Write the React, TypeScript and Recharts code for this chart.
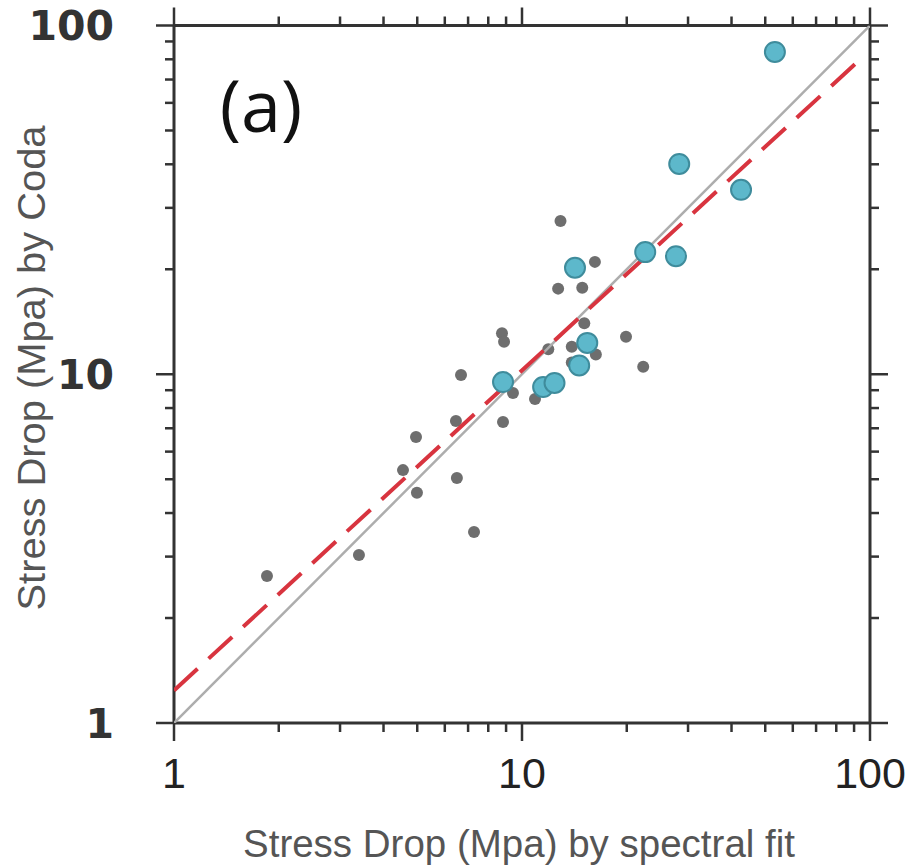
import { Scatter, ScatterChart, XAxis, YAxis } from 'recharts'

// log ticks: every integer per decade, labels only on decades
const ticks = [1, 2, 3, 4, 5, 6, 7, 8, 9, 10, 20, 30, 40, 50, 60, 70, 80, 90, 100]
const majorTicks = [1, 10, 100]

// small grey dots
const smallX = [1.85, 3.4, 4.96, 4.55, 4.99, 6.46, 6.68, 6.5, 7.28, 8.76, 8.88, 8.82, 9.42, 10.9, 11.9, 12.9, 12.7, 14.9, 16.2, 15.1, 13.9, 13.9, 16.3, 19.9, 22.3]
const smallY = [2.64, 3.03, 6.61, 5.31, 4.57, 7.34, 9.95, 5.04, 3.53, 13.1, 12.4, 7.3, 8.84, 8.49, 11.8, 27.5, 17.6, 17.7, 21.0, 14.0, 12.0, 10.8, 11.4, 12.8, 10.5]

// large cyan dots
const bigX = [8.82, 11.5, 12.4, 14.2, 14.6, 15.4, 22.6, 27.7, 28.3, 42.6, 53.3]
const bigY = [9.5, 9.19, 9.44, 20.2, 10.6, 12.3, 22.4, 21.8, 40.1, 33.8, 84.0]

// 1:1 reference line and fitted (dashed) line end points
const oneX = [1, 100]
const oneY = [1, 100]
const fitX = [1, 92]
const fitY = [1.24, 78.6]

const zip = (xs: number[], ys: number[]) => xs.map((x, i) => ({ x, y: ys[i] }))

const smallData = zip(smallX, smallY)
const bigData = zip(bigX, bigY)
const oneData = zip(oneX, oneY)
const fitData = zip(fitX, fitY)

const AXIS = '#333'

function makeTick(side: 'bottom' | 'top' | 'left' | 'right') {
  return (props: any) => {
    const { x, y, payload } = props
    const major = majorTicks.includes(payload.value)
    const len = major ? 18 : 9
    let line
    if (side === 'bottom') line = <line x1={x} y1={y} x2={x} y2={y + len} />
    else if (side === 'top') line = <line x1={x} y1={y} x2={x} y2={y - len} />
    else if (side === 'left') line = <line x1={x} y1={y} x2={x - len} y2={y} />
    else line = <line x1={x} y1={y} x2={x + len} y2={y} />

    let label = null
    if (major && side === 'bottom') {
      label = (
        <text x={x} y={y + 65} textAnchor="middle" fontFamily="'Liberation Sans', Arial, sans-serif" fontSize={43} fill="#222">
          {payload.value}
        </text>
      )
    }
    if (major && side === 'left') {
      label = (
        <text x={x - 60} y={y} dy="0.36em" textAnchor="end" fontFamily="'DejaVu Sans', sans-serif" fontWeight="bold" fontSize={41} fill="#333">
          {payload.value}
        </text>
      )
    }
    return (
      <g>
        <g stroke={AXIS} strokeWidth={2.5}>{line}</g>
        {label}
      </g>
    )
  }
}

const smallDot = (p: any) => <circle cx={p.cx} cy={p.cy} r={6} fill="#6e6e6e" />
const bigDot = (p: any) => <circle cx={p.cx} cy={p.cy} r={10} fill="#5db8cb" stroke="#3f8c9c" strokeWidth={2} />
const noDot = () => <g />

export default function App() {
  const axisLine = { stroke: AXIS, strokeWidth: 3 }
  return (
    <div style={{ position: 'fixed', left: 0, top: 0, width: 909, height: 868, background: '#fff' }}>
      <ScatterChart width={909} height={868} margin={{ top: 0, right: 0, bottom: 45, left: 74 }}>
        <XAxis
          xAxisId="bottom"
          type="number"
          dataKey="x"
          scale="log"
          domain={[1, 100]}
          allowDataOverflow
          ticks={ticks}
          interval={0}
          height={100}
          tickSize={0}
          tickMargin={0}
          tickLine={false}
          axisLine={axisLine}
          tick={makeTick('bottom')}
        />
        <XAxis
          xAxisId="top"
          orientation="top"
          type="number"
          dataKey="x"
          scale="log"
          domain={[1, 100]}
          allowDataOverflow
          ticks={ticks}
          interval={0}
          height={25.5}
          tickSize={0}
          tickMargin={0}
          tickLine={false}
          axisLine={axisLine}
          tick={makeTick('top')}
        />
        <YAxis
          yAxisId="left"
          type="number"
          dataKey="y"
          scale="log"
          domain={[1, 100]}
          allowDataOverflow
          ticks={ticks}
          interval={0}
          width={100}
          tickSize={0}
          tickMargin={0}
          tickLine={false}
          axisLine={axisLine}
          tick={makeTick('left')}
        />
        <YAxis
          yAxisId="right"
          orientation="right"
          type="number"
          dataKey="y"
          scale="log"
          domain={[1, 100]}
          allowDataOverflow
          ticks={ticks}
          interval={0}
          width={39}
          tickSize={0}
          tickMargin={0}
          tickLine={false}
          axisLine={axisLine}
          tick={makeTick('right')}
        />

        <Scatter xAxisId="bottom" yAxisId="left" data={smallData} shape={smallDot} isAnimationActive={false} />
        <Scatter
          xAxisId="top"
          yAxisId="right"
          data={oneData}
          shape={noDot}
          line={{ stroke: '#adadad', strokeWidth: 2.5 }}
          isAnimationActive={false}
        />
        <Scatter
          xAxisId="bottom"
          yAxisId="left"
          data={fitData}
          shape={noDot}
          line={{ stroke: '#d8343f', strokeWidth: 4, strokeDasharray: '32 15' }}
          isAnimationActive={false}
        />
        <Scatter xAxisId="bottom" yAxisId="left" data={bigData} shape={bigDot} isAnimationActive={false} />

        <text x={261} y={132} textAnchor="middle" fontFamily="'Open Sans', sans-serif" fontSize={72} fill="#111">
          (a)
        </text>
        <text
          x={519}
          y={857}
          textAnchor="middle"
          fontFamily="'Liberation Sans', Arial, sans-serif"
          fontSize={38}
          fill="#555"
          textLength={552}
          lengthAdjust="spacingAndGlyphs"
        >
          Stress Drop (Mpa) by spectral fit
        </text>
        <text
          x={45}
          y={368}
          transform="rotate(-90 45 368)"
          textAnchor="middle"
          fontFamily="'Liberation Sans', Arial, sans-serif"
          fontSize={38}
          fill="#555"
          textLength={485}
          lengthAdjust="spacingAndGlyphs"
        >
          Stress Drop (Mpa) by Coda
        </text>
      </ScatterChart>
    </div>
  )
}
